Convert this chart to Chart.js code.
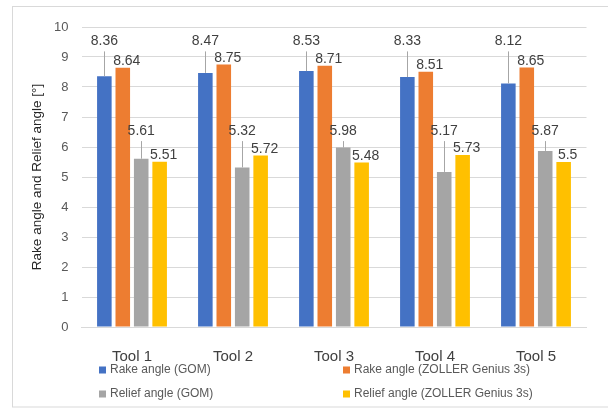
<!DOCTYPE html>
<html>
<head>
<meta charset="utf-8">
<script src="https://cdn.jsdelivr.net/npm/chart.js@4.4.1/dist/chart.umd.min.js"></script>
<style>
  body { margin: 0; background: #fff; }
  canvas { display: block; }
</style>
</head>
<body>
<canvas id="myChart" width="608" height="408"></canvas>
<script>
const categories = ["Tool 1", "Tool 2", "Tool 3", "Tool 4", "Tool 5"];
const rakeGom = [8.36, 8.47, 8.53, 8.33, 8.12];
const rakeZoller = [8.64, 8.75, 8.71, 8.51, 8.65];
const reliefGom = [5.61, 5.32, 5.98, 5.17, 5.87];
const reliefZoller = [5.51, 5.72, 5.48, 5.73, 5.5];
const yTicks = [0, 1, 2, 3, 4, 5, 6, 7, 8, 9, 10];

const FONT = "'Liberation Sans', Arial, sans-serif";

// outer frame like the Excel chart border
const framePlugin = {
    id: "frame",
    beforeDraw(chart) {
        const c = chart.ctx;
        c.save();
        c.strokeStyle = "#d9d9d9";
        c.lineWidth = 1;
        c.strokeRect(12.5, 6.5, 640, 400.5);
        c.restore();
    }
};

// data labels: some sit right above the bar, some are pulled up with a leader line
const labelPlugin = {
    id: "barLabels",
    afterDatasetsDraw(chart, args, opts) {
        const c = chart.ctx;
        const yScale = chart.scales.y;
        c.save();
        c.font = "14px " + FONT;
        c.fillStyle = "#404040";
        c.textAlign = "center";
        c.textBaseline = "middle";
        chart.data.datasets.forEach((ds, i) => {
            const meta = chart.getDatasetMeta(i);
            const callout = opts.callouts[i];
            meta.data.forEach((bar, j) => {
                const text = String(ds.data[j]);
                if (callout !== undefined) {
                    const ly = yScale.getPixelForValue(callout);
                    c.strokeStyle = "#a6a6a6";
                    c.lineWidth = 1;
                    c.beginPath();
                    c.moveTo(Math.round(bar.x) + 0.5, ly + 10);
                    c.lineTo(Math.round(bar.x) + 0.5, bar.y);
                    c.stroke();
                    c.fillText(text, bar.x, ly);
                } else {
                    c.fillText(text, bar.x + 4, bar.y - 6.5);
                }
            });
        });
        c.restore();
    }
};

// two column legend under the axis
const legendPlugin = {
    id: "twoColLegend",
    afterDraw(chart) {
        const c = chart.ctx;
        const cols = [99, 343];
        const rows = [370, 394];
        c.save();
        c.font = "12px " + FONT;
        c.fillStyle = "#595959";
        c.textBaseline = "middle";
        chart.data.datasets.forEach((ds, i) => {
            const x = cols[i % 2];
            const y = rows[Math.floor(i / 2)];
            c.fillStyle = ds.backgroundColor;
            c.fillRect(x, y - 3.5, 7, 7);
            c.fillStyle = "#595959";
            c.fillText(ds.label, x + 11, y);
        });
        c.restore();
    }
};

const ctx = document.getElementById("myChart").getContext("2d");
new Chart(ctx, {
    type: "bar",
    data: {
        labels: categories,
        datasets: [
            { label: "Rake angle (GOM)", data: rakeGom, backgroundColor: "#4472c4" },
            { label: "Rake angle (ZOLLER Genius 3s)", data: rakeZoller, backgroundColor: "#ed7d31" },
            { label: "Relief angle (GOM)", data: reliefGom, backgroundColor: "#a5a5a5" },
            { label: "Relief angle (ZOLLER Genius 3s)", data: reliefZoller, backgroundColor: "#ffc000" }
        ]
    },
    options: {
        responsive: false,
        animation: false,
        devicePixelRatio: 1,
        categoryPercentage: 0.73,
        barPercentage: 0.79,
        layout: { padding: { left: 29, right: 21.5, top: 27, bottom: 0 } },
        plugins: {
            legend: { display: false },
            tooltip: { enabled: false },
            barLabels: { callouts: [9.52, undefined, 6.53, undefined] }
        },
        scales: {
            x: {
                grid: { display: false },
                border: { color: "#d9d9d9" },
                ticks: {
                    color: "#404040",
                    padding: 13,
                    font: { family: FONT, size: 15 }
                },
                afterFit(scale) { scale.height = 81; }
            },
            y: {
                min: 0,
                max: 10,
                afterBuildTicks(scale) { scale.ticks = yTicks.map(v => ({ value: v })); },
                grid: { color: "#d9d9d9", drawTicks: false },
                border: { display: false },
                ticks: {
                    color: "#595959",
                    padding: 13,
                    font: { family: FONT, size: 13 }
                },
                title: {
                    display: true,
                    text: "Rake angle and Relief angle [°]",
                    color: "#262626",
                    padding: 0,
                    font: { family: FONT, size: 13.5 }
                },
                afterFit(scale) { scale.width = 52.5; }
            }
        }
    },
    plugins: [framePlugin, labelPlugin, legendPlugin]
});
</script>
</body>
</html>
